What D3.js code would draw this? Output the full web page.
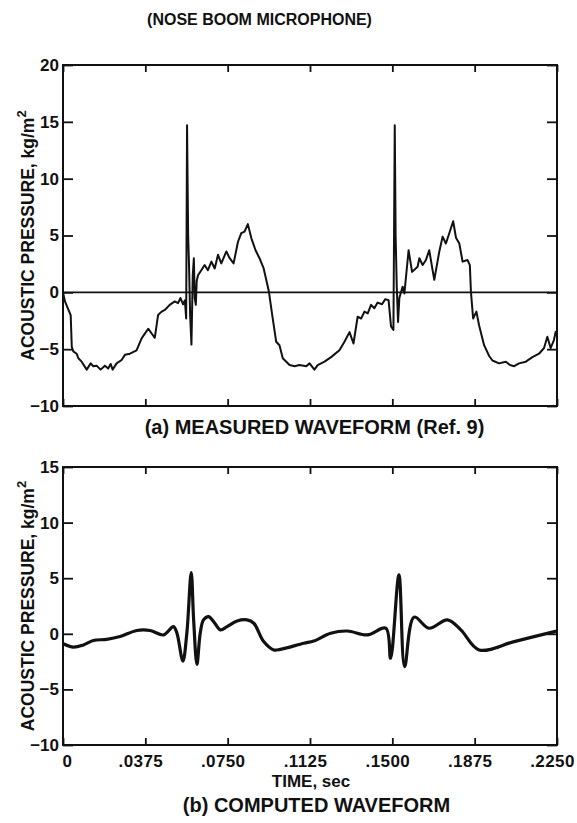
<!DOCTYPE html>
<html><head><meta charset="utf-8">
<script src="https://cdn.jsdelivr.net/npm/d3@7"></script>
<style>
body{margin:0;background:#fff}
svg{display:block}
text{font-family:"Liberation Sans",Arial,Helvetica,sans-serif;fill:#111}
</style></head><body>
<svg id="c" width="577" height="823"></svg>
<script>
// ---- data ----
const timeMeasured = [0.0001,0.0009,0.0024,0.0035,0.0040,0.0047,0.0062,0.0070,0.0085,0.0108,0.0126,0.0138,0.0153,0.0171,0.0191,0.0206,0.0217,0.0226,0.0244,0.0267,0.0282,0.0305,0.0335,0.0358,0.0388,0.0403,0.0418,0.0433,0.0449,0.0464,0.0486,0.0509,0.0524,0.0535,0.0547,0.0555,0.0561,0.0565,0.0570,0.0574,0.0579,0.0585,0.0591,0.0596,0.0600,0.0605,0.0609,0.0615,0.0630,0.0645,0.0660,0.0676,0.0691,0.0706,0.0721,0.0744,0.0759,0.0777,0.0797,0.0812,0.0827,0.0842,0.0858,0.0877,0.0895,0.0914,0.0938,0.0953,0.0971,0.0986,0.1001,0.1032,0.1055,0.1077,0.1108,0.1123,0.1145,0.1160,0.1191,0.1221,0.1259,0.1282,0.1305,0.1323,0.1342,0.1358,0.1373,0.1388,0.1403,0.1418,0.1433,0.1453,0.1468,0.1483,0.1494,0.1505,0.1511,0.1515,0.1520,0.1526,0.1532,0.1540,0.1547,0.1555,0.1574,0.1590,0.1615,0.1623,0.1638,0.1653,0.1668,0.1691,0.1714,0.1729,0.1744,0.1762,0.1777,0.1790,0.1805,0.1820,0.1842,0.1853,0.1858,0.1868,0.1883,0.1895,0.1918,0.1941,0.1956,0.1986,0.2017,0.2036,0.2055,0.2077,0.2108,0.2138,0.2168,0.2191,0.2206,0.2221,0.2236,0.2245];
const pressureMeasured = [-0.1,-0.8,-1.5,-2.0,-4.8,-5.2,-5.4,-5.8,-6.1,-6.8,-6.25,-6.5,-6.45,-6.8,-6.45,-6.7,-6.3,-6.8,-6.25,-5.95,-5.5,-5.4,-5.1,-4.05,-3.2,-3.6,-4.0,-2.0,-1.7,-1.55,-1.1,-0.8,-0.95,-0.5,-1.05,-0.7,-2.3,14.7,5.0,2.4,-2.0,-4.6,1.5,3.0,-0.5,-1.1,1.0,1.5,1.95,2.4,1.95,2.7,2.1,3.3,2.55,3.6,3.0,2.55,4.45,5.2,5.35,6.0,4.75,3.7,3.0,2.1,0.05,-2.0,-4.35,-4.65,-5.8,-6.4,-6.5,-6.4,-6.5,-6.25,-6.8,-6.4,-6.1,-5.7,-5.1,-4.35,-3.5,-4.5,-2.15,-2.3,-1.7,-1.85,-1.1,-1.4,-0.9,-1.05,-0.6,-0.7,-3.0,-3.3,14.7,5.0,0.6,-2.6,-0.5,0.05,0.5,-0.1,3.7,1.8,2.25,3.0,2.4,2.85,3.7,1.1,3.6,4.9,4.3,5.35,6.25,4.8,4.3,2.7,2.85,2.4,0.05,-2.3,-1.7,-2.9,-4.65,-5.6,-6.0,-6.25,-6.1,-6.4,-6.5,-6.25,-6.1,-5.7,-5.4,-4.9,-3.9,-4.9,-4.2,-3.4];
const timeComputed = [0.0001,0.0047,0.0093,0.0138,0.0199,0.0260,0.0336,0.0397,0.0458,0.0503,0.0519,0.0546,0.0564,0.0584,0.0595,0.0610,0.0625,0.0640,0.0663,0.0686,0.0717,0.0747,0.0793,0.0838,0.0869,0.0914,0.0960,0.0990,0.1097,0.1142,0.1219,0.1295,0.1386,0.1470,0.1492,0.1530,0.1556,0.1599,0.1667,0.1751,0.1812,0.1895,0.2055,0.2238,0.2250];
const pressureComputed = [-0.9,-1.2,-1.0,-0.6,-0.5,-0.25,0.3,0.3,-0.1,0.65,0.05,-2.45,0.05,5.5,1.25,-2.75,0.05,1.25,1.55,1.1,0.35,0.65,1.15,1.25,0.95,-0.7,-1.45,-1.4,-0.85,-0.65,0.05,0.25,-0.1,0.5,-2.2,5.3,-2.95,1.5,0.5,1.25,0.35,-1.45,-0.7,0.2,0.25];
const timeTicks = [0,0.0375,0.075,0.1125,0.15,0.1875,0.225];
const timeTickLabels = ["0",".0375",".0750",".1125",".1500",".1875",".2250"];
const pressureTicksA = [-10,-5,0,5,10,15,20];
const pressureTicksB = [-10,-5,0,5,10,15];
const titleText = "(NOSE BOOM MICROPHONE)";
const captionA = "(a) MEASURED WAVEFORM (Ref. 9)";
const captionB = "(b) COMPUTED WAVEFORM";
const yTitle = "ACOUSTIC PRESSURE, kg/m";
const yTitleSup = "2";
const xTitle = "TIME, sec";

// ---- drawing ----
const svg = d3.select("#c");
const L = 63, R = 557;
const x = d3.scaleLinear().domain([0, 0.225]).range([L, R]);
const yA = d3.scaleLinear().domain([-10, 20]).range([406, 65]);
const yB = d3.scaleLinear().domain([-10, 15]).range([745, 467]);

function styleAxis(g){
  g.select(".domain").remove();
  g.selectAll(".tick line").attr("stroke","#111").attr("stroke-width",1.8);
  g.selectAll("text").attr("font-size",17).attr("font-weight","bold").attr("fill","#111");
}

function panel(y, yTicks, showXLabels){
  const top = y.range()[1], bot = y.range()[0];
  svg.append("g").attr("transform",`translate(${L},0)`)
    .call(d3.axisLeft(y).tickValues(yTicks).tickSize(-10).tickPadding(4).tickFormat(d3.format("d")))
    .call(styleAxis);
  svg.append("g").attr("transform",`translate(${R},0)`)
    .call(d3.axisRight(y).tickValues(yTicks).tickSize(-10).tickFormat(""))
    .call(styleAxis);
  svg.append("g").attr("transform",`translate(0,${top})`)
    .call(d3.axisTop(x).tickValues(timeTicks).tickSize(-7).tickFormat(""))
    .call(styleAxis);
  const gb = svg.append("g").attr("transform",`translate(0,${bot})`)
    .call(d3.axisBottom(x).tickValues(timeTicks).tickSize(-7).tickPadding(10)
      .tickFormat(showXLabels ? (d,i)=>timeTickLabels[i] : ""))
    .call(styleAxis);
  gb.selectAll("text").attr("dx",(d,i)=> i===0 ? 4 : -5).attr("letter-spacing",0.4);
  svg.append("rect").attr("x",L).attr("y",top).attr("width",R-L).attr("height",bot-top)
    .attr("fill","none").attr("stroke","#111").attr("stroke-width",2);
  // y title
  const t = svg.append("text")
    .attr("transform",`translate(34,${(top+bot)/2}) rotate(-90)`)
    .attr("text-anchor","middle").attr("font-size",17.5).attr("font-weight","bold");
  t.append("tspan").text(yTitle);
  t.append("tspan").attr("dy",-8).attr("font-size",13).text(yTitleSup);
}

panel(yA, pressureTicksA, false);
panel(yB, pressureTicksB, true);

// zero line in the measured panel
svg.append("line").attr("x1",L).attr("x2",R).attr("y1",yA(0)).attr("y2",yA(0))
  .attr("stroke","#111").attr("stroke-width",1.8);

const lineA = d3.line().x((d,i)=>x(timeMeasured[i])).y(d=>yA(d)).curve(d3.curveLinear);
svg.append("path").datum(pressureMeasured).attr("d",lineA)
  .attr("fill","none").attr("stroke","#111").attr("stroke-width",2).attr("stroke-linejoin","round");

const lineB = d3.line().x((d,i)=>x(timeComputed[i])).y(d=>yB(d)).curve(d3.curveCatmullRom.alpha(0.5));
svg.append("path").datum(pressureComputed).attr("d",lineB)
  .attr("fill","none").attr("stroke","#111").attr("stroke-width",3.2).attr("stroke-linejoin","round");

// texts
svg.append("text").attr("x",259.5).attr("y",25).attr("text-anchor","middle")
  .attr("font-size",16).attr("font-weight","bold").text(titleText);
svg.append("text").attr("x",314.5).attr("y",434).attr("text-anchor","middle")
  .attr("font-size",20).attr("font-weight","bold").text(captionA);
svg.append("text").attr("x",311).attr("y",787).attr("text-anchor","middle")
  .attr("font-size",17).attr("font-weight","bold").text(xTitle);
svg.append("text").attr("x",316.5).attr("y",812).attr("text-anchor","middle")
  .attr("font-size",20).attr("font-weight","bold").text(captionB);
</script>
</body></html>
